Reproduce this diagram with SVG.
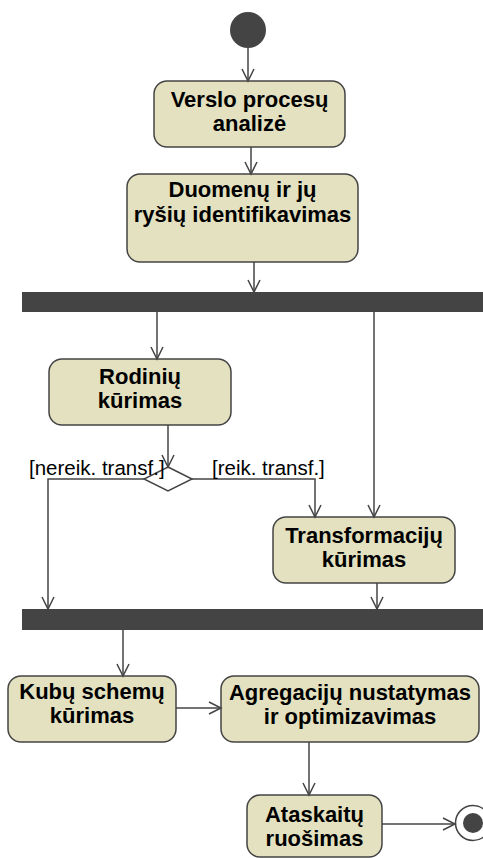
<svg xmlns="http://www.w3.org/2000/svg" width="483" height="858" viewBox="0 0 483 858">
  <defs>
    <marker id="open" markerUnits="userSpaceOnUse" markerWidth="16" markerHeight="16" refX="13" refY="7" orient="auto">
      <path d="M1,1 L13,7 L1,13" fill="none" stroke="#444" stroke-width="1.5"/>
    </marker>
    <style>
      .act { fill: #e3e1bf; stroke: #444; stroke-width: 1.5; }
      .bar { fill: #444; }
      .lbl { font-family: "Liberation Sans", Arial, sans-serif; font-size: 22px; font-weight: bold; fill: #000; text-anchor: middle; }
      .guard { font-family: "Liberation Sans", Arial, sans-serif; font-size: 20.5px; fill: #000; }
      .edge { fill: none; stroke: #444; stroke-width: 1.5; }
    </style>
  </defs>
  <rect width="483" height="858" fill="#fff"/>

  <g id="start"><circle cx="248" cy="30" r="18" fill="#444"/></g>

  <g id="n-verslo">
    <rect class="act" x="154" y="81" width="191" height="66" rx="13"/>
    <text class="lbl" x="249.5" y="107">Verslo procesų</text>
    <text class="lbl" x="249.5" y="131">analizė</text>
  </g>

  <g id="n-duomenu">
    <rect class="act" x="127" y="174" width="231" height="88" rx="13"/>
    <text class="lbl" x="242.5" y="197">Duomenų ir jų</text>
    <text class="lbl" x="242.5" y="222">ryšių identifikavimas</text>
  </g>

  <g id="fork"><rect class="bar" x="22" y="292" width="465" height="20"/></g>

  <g id="n-rodiniu">
    <rect class="act" x="49" y="359" width="182" height="66" rx="13"/>
    <text class="lbl" x="140" y="384">Rodinių</text>
    <text class="lbl" x="140" y="408">kūrimas</text>
  </g>

  <g id="decision"><path d="M168,467 L192,479 L168,491 L144,479 Z" fill="#fff" stroke="#444" stroke-width="1.5"/></g>

  <g id="n-transf">
    <rect class="act" x="273" y="517" width="182" height="66" rx="13"/>
    <text class="lbl" x="364" y="543">Transformacijų</text>
    <text class="lbl" x="364" y="567">kūrimas</text>
  </g>

  <g id="join"><rect class="bar" x="22" y="609" width="465" height="21"/></g>

  <g id="n-kubu">
    <rect class="act" x="8" y="676" width="168" height="66" rx="13"/>
    <text class="lbl" x="92" y="699">Kubų schemų</text>
    <text class="lbl" x="92" y="723">kūrimas</text>
  </g>

  <g id="n-agreg">
    <rect class="act" x="221" y="676" width="258" height="66" rx="13"/>
    <text class="lbl" x="350" y="700">Agregacijų nustatymas</text>
    <text class="lbl" x="350" y="724">ir optimizavimas</text>
  </g>

  <g id="n-ataskaitu">
    <rect class="act" x="247" y="795" width="135" height="62" rx="13"/>
    <text class="lbl" x="314.5" y="822">Ataskaitų</text>
    <text class="lbl" x="314.5" y="846">ruošimas</text>
  </g>

  <g id="final">
    <circle cx="473" cy="823" r="17.5" fill="#fff" stroke="#444" stroke-width="1.5"/>
    <circle cx="473" cy="823" r="10" fill="#444"/>
  </g>

  <g id="connectors">
    <path class="edge" d="M248,48 V81" marker-end="url(#open)"/>
    <path class="edge" d="M251,147 V174" marker-end="url(#open)"/>
    <path class="edge" d="M254,262 V292" marker-end="url(#open)"/>
    <path class="edge" d="M157,312 V359" marker-end="url(#open)"/>
    <path class="edge" d="M374,312 V517" marker-end="url(#open)"/>
    <path class="edge" d="M168,425 V467" marker-end="url(#open)"/>
    <path class="edge" d="M144,479 H48 V609" marker-end="url(#open)"/>
    <path class="edge" d="M192,479 H315 V517" marker-end="url(#open)"/>
    <path class="edge" d="M377,583 V609" marker-end="url(#open)"/>
    <path class="edge" d="M123,630 V676" marker-end="url(#open)"/>
    <path class="edge" d="M176,708 H221" marker-end="url(#open)"/>
    <path class="edge" d="M309,742 V795" marker-end="url(#open)"/>
    <path class="edge" d="M382,824 H455" marker-end="url(#open)"/>
    <text class="guard" x="29" y="475">[nereik. transf.]</text>
    <text class="guard" x="212" y="475">[reik. transf.]</text>
  </g>
</svg>
